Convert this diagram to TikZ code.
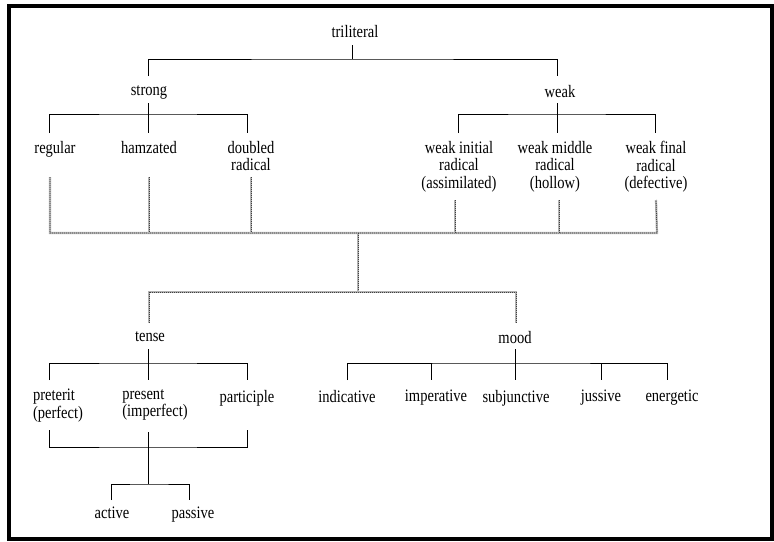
\documentclass[tikz,border=0pt]{standalone}
\usepackage{fontspec}
\setmainfont{Liberation Serif}[FakeStretch=0.83]
\begin{document}
\begin{tikzpicture}[x=1pt,y=-1pt,
  lbl/.style={anchor=north,inner sep=0pt,align=center,font=\fontsize{17.5}{17.5}\selectfont},
  lbll/.style={lbl,align=left},
  tree/.style={draw=black,line width=0.9pt},
  dots/.style={draw=black!75,line width=0.8pt,dash pattern=on 0.9pt off 1.1pt,
     preaction={draw=gray!60,line width=2.2pt,solid}}]
\useasboundingbox (0,0) rectangle (774,541);
\draw[line width=4pt] (8.5,5.5) rectangle (771.5,539);
% labels
\node[lbl] (tri) at (355,25) {triliteral};
\node[lbl] (strong) at (149,85) {strong};
\node[lbl] (weak) at (560,85) {weak};
\node[lbl] (regular) at (55,141) {regular};
\node[lbl] (hamz) at (149,141) {hamzated};
\node[lbl] (doubled) at (251,141) {doubled\\radical};
\node[lbl] (wi) at (459,141) {weak initial\\radical\\(assimilated)};
\node[lbl] (wm) at (555,141) {weak middle\\radical\\(hollow)};
\node[lbl] (wf) at (656,141) {weak final\\radical\\(defective)};
\node[lbl] (tense) at (150,331) {tense};
\node[lbl] (mood) at (515,331) {mood};
\node[lbll] (pret) at (58,389) {preterit\\(perfect)};
\node[lbll] (pres) at (155,389) {present\\(imperfect)};
\node[lbl] (part) at (247,390) {participle};
\node[lbl] (ind) at (347,390) {indicative};
\node[lbl] (imp) at (436,390) {imperative};
\node[lbl] (subj) at (516,390) {subjunctive};
\node[lbl] (juss) at (601,390) {jussive};
\node[lbl] (ener) at (672,390) {energetic};
\node[lbl] (act) at (112,507) {active};
\node[lbl] (pass) at (193,507) {passive};
% junction coordinates
\coordinate (t0) at (352,45); \coordinate (t1) at (352,59);
\coordinate (s0) at (148,76); \coordinate (w0) at (557,76);
\coordinate (s1) at (148,103); \coordinate (s2) at (148,114);
\coordinate (w1) at (557,103); \coordinate (w2) at (557,114);
% triliteral
\draw[tree] (t0) -- (t1);
\draw[tree] (s0) |- (t1) -| (w0);
% strong
\draw[tree] (s1) -- (s2);
\draw[tree] (49,133) coordinate (r0) |- (s2) -| (247,133) coordinate (d0);
\draw[tree] (s2) -- (148,133) coordinate (h0);
% weak
\draw[tree] (w1) -- (w2);
\draw[tree] (458,133) coordinate (wi0) |- (w2) -| (655,133) coordinate (wf0);
\draw[tree] (w2) -- (557,133) coordinate (wm0);
% grey combination lines
\coordinate (g0) at (358,233); \coordinate (g1) at (358,292);
\draw[dots] (50,177) coordinate (ra) -- (50,233) -- (657,233) -- (656,200) coordinate (wfa);
\draw[dots] (149,177) coordinate (ha) -- (149,233);
\draw[dots] (251,177) coordinate (da) -- (251,233);
\draw[dots] (455,200) coordinate (wia) -- (455,233);
\draw[dots] (559,200) coordinate (wma) -- (559,233);
\draw[dots] (g0) -- (g1);
\draw[dots] (149,323) coordinate (tn) |- (g1) -| (516,323) coordinate (mn);
% tense
\coordinate (te0) at (148,349); \coordinate (te1) at (148,363);
\draw[tree] (te0) -- (te1);
\draw[tree] (49,380) coordinate (p0) |- (te1) -| (247,380) coordinate (pa0);
\draw[tree] (te1) -- (148,380) coordinate (pr0);
% voice
\coordinate (v0) at (148,432); \coordinate (v1) at (148,484);
\draw[tree] (49,430) coordinate (pb) |- (148,447) -| (247,430) coordinate (pab);
\draw[tree] (v0) -- (v1);
\draw[tree] (111,500) coordinate (a0) |- (v1) -| (189,500) coordinate (b0);
% mood
\coordinate (m0) at (515,349); \coordinate (m1) at (515,363);
\draw[tree] (m0) -- (m1);
\draw[tree] (347,380) coordinate (in0) |- (m1) -| (667,380) coordinate (en0);
\draw[tree] (431,363) -- (431,380) coordinate (im0);
\draw[tree] (m1) -- (515,380) coordinate (su0);
\draw[tree] (601,363) -- (601,380) coordinate (ju0);
\end{tikzpicture}
\end{document}
